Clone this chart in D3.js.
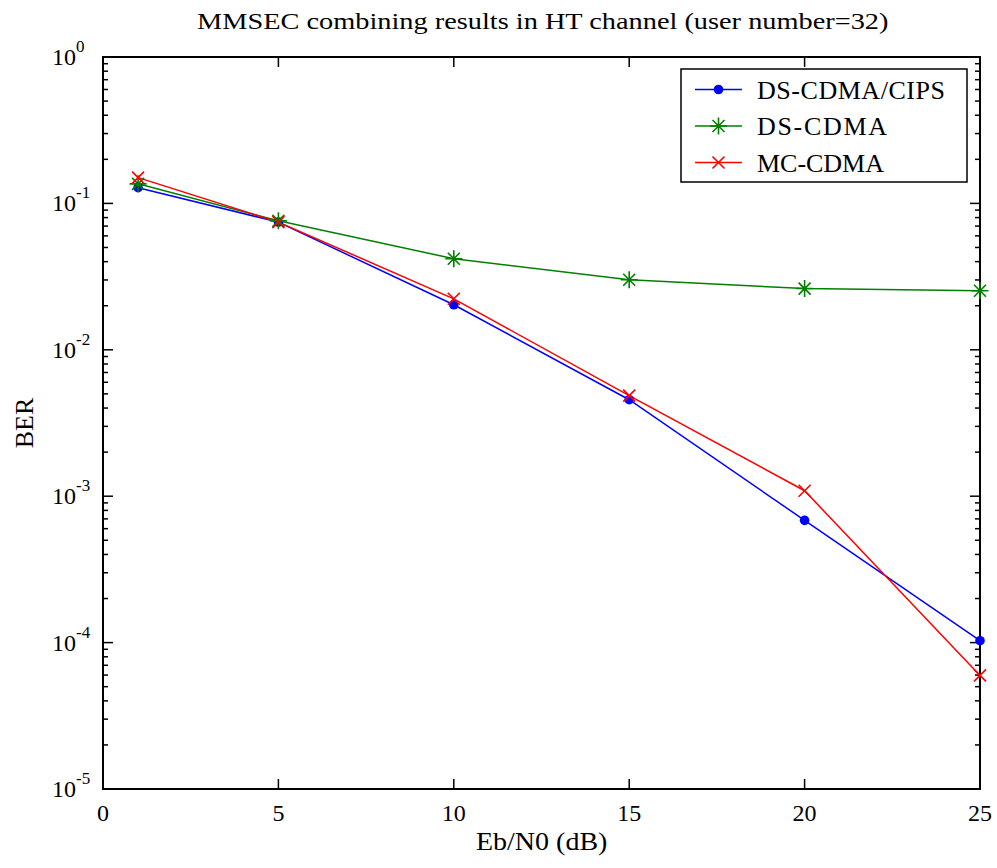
<!DOCTYPE html>
<html>
<head>
<meta charset="utf-8">
<script src="https://cdn.jsdelivr.net/npm/d3@7/dist/d3.min.js"></script>
<style>
  body { margin: 0; background: #fff; }
  svg { display: block; font-family: "Liberation Serif", "Times New Roman", serif; }
</style>
</head>
<body>
<svg id="chart" width="997" height="868"></svg>
<script>
// Eb/N0 sample points (dB)
const ebn0 = [1, 5, 10, 15, 20, 25];
// BER per scheme
const berCips   = [0.128, 0.0745, 0.0203, 0.00456, 0.000684, 0.000103];
const berDsCdma = [0.136, 0.0760, 0.0419, 0.0301, 0.0262, 0.0253];
const berMcCdma = [0.150, 0.0745, 0.0223, 0.00486, 0.00109, 0.0000597];

const seriesNames = ["DS-CDMA/CIPS", "DS-CDMA", "MC-CDMA"];
const seriesColors = ["#0000ff", "#008000", "#ff0000"];
const seriesMarkers = ["dot", "star", "cross"];

const xTicks = [0, 5, 10, 15, 20, 25];
const yExponents = [0, -1, -2, -3, -4, -5];

const titleText = "MMSEC combining results in HT channel (user number=32)";
const xLabel = "Eb/N0 (dB)";
const yLabel = "BER";

const svg = d3.select("#chart");
const L = 103, R = 980, T = 57, B = 789;

const x = d3.scaleLinear().domain([0, 25]).range([L, R]);
const y = d3.scaleLog().domain([1e-5, 1]).range([B, T]);

// Minor log ticks 2..9 × 10^k
const minor = [];
for (let k = -5; k < 0; k++) for (let m = 2; m <= 9; m++) minor.push(m * Math.pow(10, k));

// Plot frame
svg.append("rect").attr("x", L).attr("y", T).attr("width", R - L).attr("height", B - T)
  .attr("fill", "none").attr("stroke", "#000").attr("stroke-width", 2);

const tickG = svg.append("g").attr("stroke", "#000").attr("stroke-width", 1.5);
// x ticks, bottom and top, pointing inward
xTicks.forEach(v => {
  tickG.append("line").attr("x1", x(v)).attr("x2", x(v)).attr("y1", B).attr("y2", B - 10);
  tickG.append("line").attr("x1", x(v)).attr("x2", x(v)).attr("y1", T).attr("y2", T + 10);
});
// y major ticks, left and right
yExponents.forEach(e => {
  const py = y(Math.pow(10, e));
  tickG.append("line").attr("x1", L).attr("x2", L + 10).attr("y1", py).attr("y2", py);
  tickG.append("line").attr("x1", R).attr("x2", R - 10).attr("y1", py).attr("y2", py);
});
// y minor ticks
minor.forEach(v => {
  const py = y(v);
  tickG.append("line").attr("x1", L).attr("x2", L + 5).attr("y1", py).attr("y2", py);
  tickG.append("line").attr("x1", R).attr("x2", R - 5).attr("y1", py).attr("y2", py);
});

// x tick labels
svg.append("g").selectAll("text").data(xTicks).join("text")
  .attr("x", d => x(d)).attr("y", B + 32)
  .attr("text-anchor", "middle").attr("font-size", 24).text(d => d);

// y tick labels 10^e
const yl = svg.append("g").selectAll("text").data(yExponents).join("text")
  .attr("x", 52).attr("y", d => y(Math.pow(10, d)) + 8)
  .attr("font-size", 24);
yl.append("tspan").text("10");
yl.append("tspan").attr("dy", -13).attr("font-size", 17).text(d => d);

// Title and axis labels (wide serif face, stretched horizontally)
svg.append("text").attr("transform", "translate(197,29) scale(1.26,1)")
  .attr("font-size", 22.5).text(titleText);
svg.append("text").attr("transform", "translate(476,850) scale(1.12,1)")
  .attr("font-size", 25).text(xLabel);
svg.append("text").attr("transform", `translate(33,${(T + B) / 2}) rotate(-90)`)
  .attr("text-anchor", "middle").attr("font-size", 26).text(yLabel);

// Marker drawing
function drawMarker(g, kind, color, cx, cy) {
  if (kind === "dot") {
    g.append("circle").attr("cx", cx).attr("cy", cy).attr("r", 4.8).attr("fill", color);
  } else if (kind === "star") {
    const s = 8.5, d = 6;
    g.append("path").attr("stroke", color).attr("stroke-width", 1.6).attr("fill", "none")
      .attr("d", `M${cx - s},${cy}H${cx + s}M${cx},${cy - s}V${cy + s}` +
                 `M${cx - d},${cy - d}L${cx + d},${cy + d}M${cx - d},${cy + d}L${cx + d},${cy - d}`);
  } else {
    const s = 6;
    g.append("path").attr("stroke", color).attr("stroke-width", 1.6).attr("fill", "none")
      .attr("d", `M${cx - s},${cy - s}L${cx + s},${cy + s}M${cx - s},${cy + s}L${cx + s},${cy - s}`);
  }
}

const allSeries = [berCips, berDsCdma, berMcCdma];
const line = d3.line().x(d => x(d[0])).y(d => y(d[1]));
const plotG = svg.append("g");
allSeries.forEach((vals, i) => {
  const pts = ebn0.map((e, j) => [e, vals[j]]);
  plotG.append("path").datum(pts).attr("d", line).attr("fill", "none")
    .attr("stroke", seriesColors[i]).attr("stroke-width", 1.5);
});
allSeries.forEach((vals, i) => {
  ebn0.forEach((e, j) => drawMarker(plotG, seriesMarkers[i], seriesColors[i], x(e), y(vals[j])));
});

// Legend
const lg = svg.append("g");
lg.append("rect").attr("x", 681).attr("y", 69).attr("width", 286).attr("height", 113)
  .attr("fill", "#fff").attr("stroke", "#000").attr("stroke-width", 1.5);
const rowY = [89.5, 126, 162.5];
const legendWidths = [188, 130, 127];
seriesNames.forEach((n, i) => {
  lg.append("line").attr("x1", 695).attr("x2", 742).attr("y1", rowY[i]).attr("y2", rowY[i])
    .attr("stroke", seriesColors[i]).attr("stroke-width", 1.5);
  drawMarker(lg, seriesMarkers[i], seriesColors[i], 718.5, rowY[i]);
  lg.append("text").attr("x", 757).attr("y", rowY[i] + 9).attr("font-size", 26)
    .attr("textLength", legendWidths[i]).attr("lengthAdjust", "spacing").text(n);
});
</script>
</body>
</html>
